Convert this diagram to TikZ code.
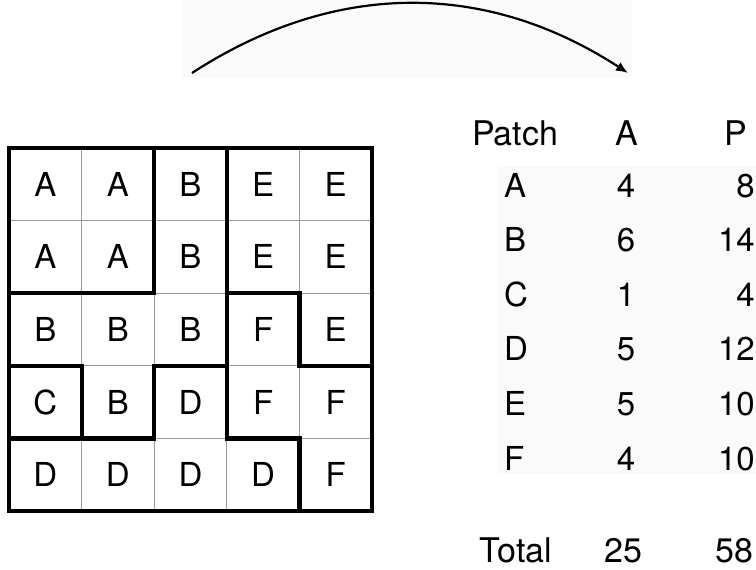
\documentclass[tikz,border=0pt]{standalone}
\usepackage{fontspec}
\setmainfont{TeX Gyre Heros}
\usetikzlibrary{arrows.meta,positioning}
\definecolor{GridGray}{HTML}{9A9A9A}
\definecolor{ScanGray}{HTML}{FAFAFA}
\tikzset{
  cell/.style={font=\fontsize{33}{33}\selectfont,inner sep=0pt},
  tablecell/.style={font=\fontsize{33}{33}\selectfont,inner sep=0pt},
  tablehead/.style={font=\fontsize{34}{34}\selectfont,inner sep=0pt},
  patchedge/.style={line width=4.2pt,line cap=rect,line join=miter},
}

\begin{document}
\begin{tikzpicture}[x=1pt,y=-1pt]
  \useasboundingbox (0,0) rectangle (756,570);
  % faint scan backgrounds
  \fill[ScanGray] (182,0) rectangle (632,78);
  \fill[ScanGray] (497,165) rectangle (756,475);

  % landscape grid, 5 x 5 cells
  \begin{scope}[shift={(9,148)},x=72.6pt,y=-72.6pt]
    \foreach \k in {1,...,4} {
      \draw[GridGray,line width=0.7pt] (\k,0) -- (\k,5);
      \draw[GridGray,line width=0.7pt] (0,\k) -- (5,\k);
    }
    \foreach \row/\labels in {1/{A,A,B,E,E},2/{A,A,B,E,E},3/{B,B,B,F,E},4/{C,B,D,F,F},5/{D,D,D,D,F}}
      \foreach \lab [count=\col] in \labels
        \node[cell] (cell-\row-\col) at (\col-0.5,\row-0.5) {\lab};
    % patch boundaries
    \draw[patchedge,line width=4.8pt] (0,0) rectangle (5,5);
    \draw[patchedge] (2,0) -- (2,2) -- (0,2);
    \draw[patchedge] (3,0) -- (3,4) -- (4,4) -- (4,5);
    \draw[patchedge] (3,2) -- (4,2) -- (4,3) -- (5,3);
    \draw[patchedge] (0,3) -- (1,3) -- (1,4);
    \draw[patchedge] (0,4) -- (2,4) -- (2,3) -- (3,3);
  \end{scope}

  % patch table
  \node[tablehead,anchor=base] (hdr-patch) at (515,145) {Patch};
  \node[tablehead,anchor=base] (hdr-area) at (627,145) {A};
  \node[tablehead,anchor=base] (hdr-perim) at (736,145) {P};
  \foreach \pid/\area/\perim [count=\i from 0] in {A/4/8,B/6/14,C/1/4,D/5/12,E/5/10,F/4/10} {
    \node[tablecell,anchor=base west] (row-\pid) at (504,197+54.6*\i) {\pid};
    \node[tablecell,anchor=base] (area-\pid) at (626,197+54.6*\i) {\area};
    \node[tablecell,anchor=base east] (perim-\pid) at (755,197+54.6*\i) {\perim};
  }
  \node[tablehead,anchor=base] (total) at (516,562) {Total};
  \node[tablehead,anchor=base] (total-area) at (623,562) {25};
  \node[tablehead,anchor=base east] (total-perim) at (754,562) {58};

  \coordinate (arc-start) at (192,73);
  \coordinate (arc-end) at (628,73);
  \draw[line width=2.2pt,-{Latex[length=12pt,width=10pt]}] (arc-start) to[bend left=33] (arc-end);
\end{tikzpicture}
\end{document}
